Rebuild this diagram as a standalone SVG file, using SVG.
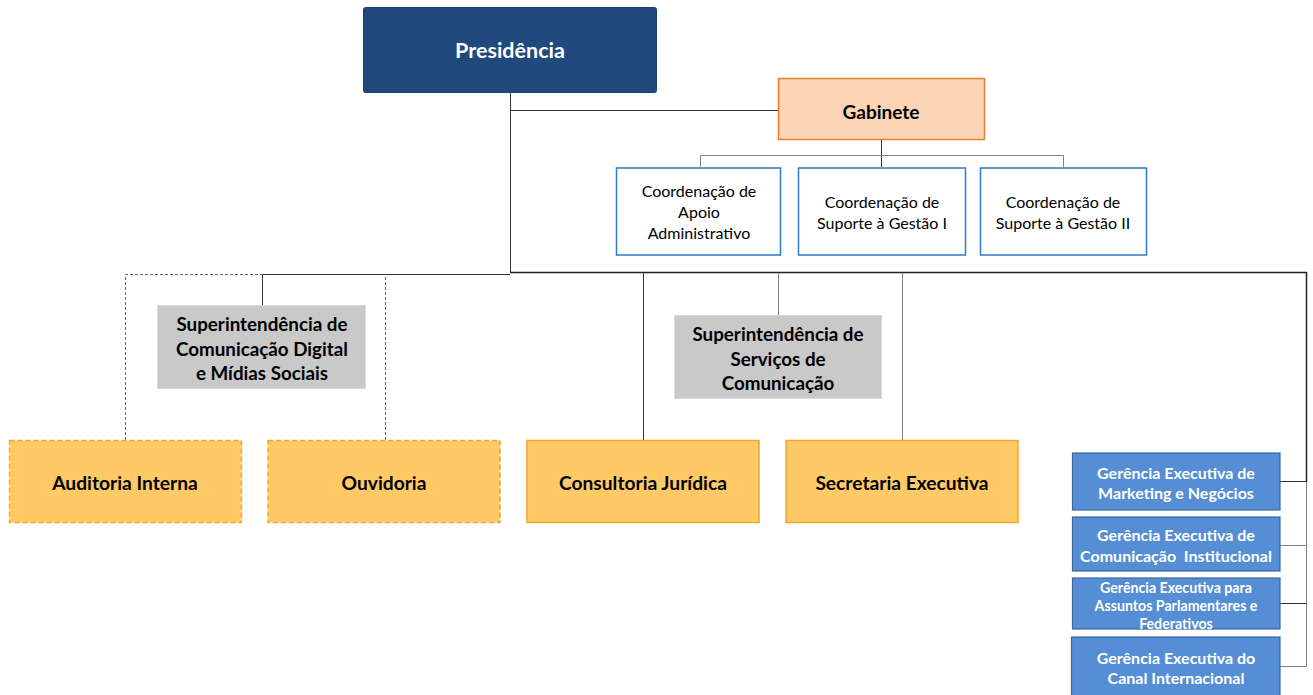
<svg xmlns="http://www.w3.org/2000/svg" width="1313" height="695" viewBox="0 0 1313 695">
<style>
text{font-family:Lato,"Open Sans","Liberation Sans",sans-serif;text-anchor:middle;dominant-baseline:central}
.b{font-weight:bold}
.w{fill:#ffffff}
.k{fill:#000000}
.orange{fill:#FFCA66;stroke:#F5A52A;stroke-width:1.5}
.dash{stroke-dasharray:5,3}
.grey{fill:#C9C9C9;stroke:#DADADA;stroke-width:1}
.coord{fill:#ffffff;stroke:#2F7BC4;stroke-width:1.5}
.ger{fill:#558ED5;stroke:#3A67A0;stroke-width:1.2}
.ln{fill:none;stroke:#333333;stroke-width:1}
.lg{fill:none;stroke:#808080;stroke-width:1}
.ld{fill:none;stroke:#666666;stroke-width:1;stroke-dasharray:3,2}
</style>
<g id="connectors">
<path class="ln" d="M510.5 93 V272.5"/>
<path class="ln" d="M510.5 110.5 H778"/>
<path class="ln" d="M881.5 140 V167"/>
<path class="lg" d="M700.5 167 V155.5 H1063.5 V167"/>
<path class="ln" d="M510 272.5 H1306.5 V482" style="stroke-width:1.5;stroke:#222"/>
<path class="lg" d="M1306.5 482 V666.5 H1280"/>
<path class="ln" d="M1280 481.5 H1306.5"/>
<path class="lg" d="M1280 545.5 H1306.5"/>
<path class="ln" d="M1280 603.5 H1306.5"/>
<path class="ln" d="M262.5 274.5 H510"/>
<path class="ld" d="M125.5 440 V274.5 H262.5"/>
<path class="ld" d="M385.5 440 V274.5"/>
<path class="ln" d="M262.5 274.5 V305"/>
<path class="ln" d="M643.5 273 V440"/>
<path class="lg" d="M778.5 273 V315"/>
<path class="lg" d="M902.5 273 V440"/>
</g>
<g id="presidencia">
<rect x="363.5" y="7.5" width="293" height="85" rx="2" fill="#204A7D" stroke="#1B3F6B"/>
<text class="b w" x="510" y="50" font-size="21.5">Presidência</text>
</g>
<g id="gabinete">
<rect x="778.5" y="78.5" width="206" height="61" fill="#FBD5B5" stroke="#ED7D31" stroke-width="1.5"/>
<text class="b k" x="881" y="111" font-size="19">Gabinete</text>
</g>
<g id="coord-apoio">
<rect class="coord" x="616.5" y="168" width="164" height="87"/>
<text class="k" font-size="16"><tspan x="699" y="190">Coordenação de</tspan><tspan x="699" y="211">Apoio</tspan><tspan x="699" y="232">Administrativo</tspan></text>
</g>
<g id="coord-suporte-1">
<rect class="coord" x="798.5" y="168" width="167" height="87"/>
<text class="k" font-size="16"><tspan x="882" y="201">Coordenação de</tspan><tspan x="882" y="222">Suporte à Gestão I</tspan></text>
</g>
<g id="coord-suporte-2">
<rect class="coord" x="980.5" y="168" width="166" height="87"/>
<text class="k" font-size="16"><tspan x="1063" y="201">Coordenação de</tspan><tspan x="1063" y="222">Suporte à Gestão II</tspan></text>
</g>
<g id="sup-digital">
<rect class="grey" x="157.5" y="305.5" width="208" height="83"/>
<text class="b k" font-size="18.8"><tspan x="262" y="323">Superintendência de</tspan><tspan x="262" y="347.5">Comunicação Digital</tspan><tspan x="262" y="372">e Mídias Sociais</tspan></text>
</g>
<g id="sup-servicos">
<rect class="grey" x="674.5" y="315.5" width="207" height="83"/>
<text class="b k" font-size="18.8"><tspan x="778" y="333">Superintendência de</tspan><tspan x="778" y="357.5">Serviços de</tspan><tspan x="778" y="382">Comunicação</tspan></text>
</g>
<g id="auditoria">
<rect class="orange dash" x="9.5" y="440.5" width="232" height="82"/>
<text class="b k" x="125" y="482" font-size="19.2">Auditoria Interna</text>
</g>
<g id="ouvidoria">
<rect class="orange dash" x="268" y="440.5" width="232" height="82"/>
<text class="b k" x="384" y="482" font-size="19.2">Ouvidoria</text>
</g>
<g id="consultoria">
<rect class="orange" x="527" y="440.5" width="232" height="82"/>
<text class="b k" x="643" y="482" font-size="19.2">Consultoria Jurídica</text>
</g>
<g id="secretaria">
<rect class="orange" x="786" y="440.5" width="232" height="82"/>
<text class="b k" x="902" y="482" font-size="19.2">Secretaria Executiva</text>
</g>
<g id="ger-marketing">
<rect class="ger" x="1072.5" y="453" width="207.5" height="57"/>
<text class="b w" font-size="16"><tspan x="1176" y="472">Gerência Executiva de</tspan><tspan x="1176" y="492">Marketing e Negócios</tspan></text>
</g>
<g id="ger-comunicacao">
<rect class="ger" x="1072.5" y="517" width="207.5" height="54"/>
<text class="b w" font-size="16"><tspan x="1176" y="534">Gerência Executiva de</tspan><tspan x="1176" y="555">Comunicação&#160; Institucional</tspan></text>
</g>
<g id="ger-assuntos">
<rect class="ger" x="1072.5" y="578" width="207.5" height="51"/>
<text class="b w" font-size="14.2"><tspan x="1176" y="587">Gerência Executiva para</tspan><tspan x="1176" y="605">Assuntos Parlamentares e</tspan><tspan x="1176" y="623">Federativos</tspan></text>
</g>
<g id="ger-canal">
<rect class="ger" x="1071.5" y="637" width="208.5" height="60"/>
<text class="b w" font-size="16"><tspan x="1176" y="657">Gerência Executiva do</tspan><tspan x="1176" y="677">Canal Internacional</tspan></text>
</g>
</svg>
